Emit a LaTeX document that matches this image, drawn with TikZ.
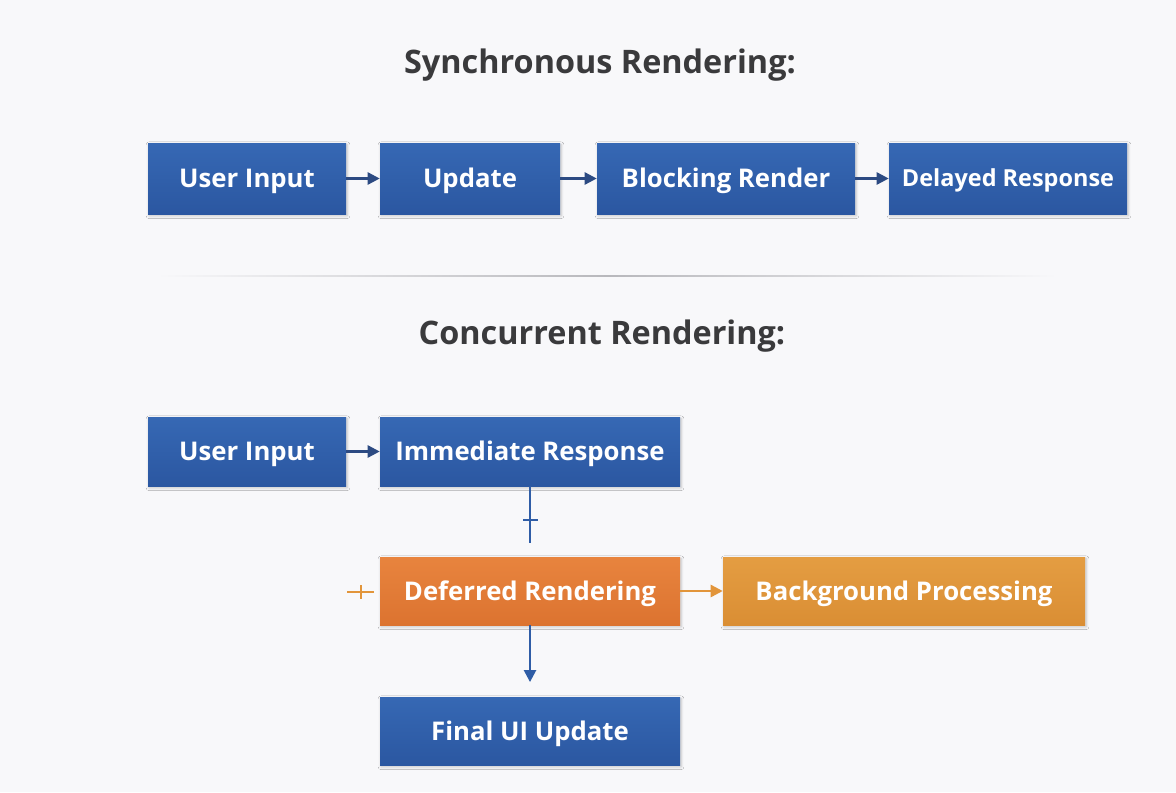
\documentclass[tikz,border=0pt]{standalone}
\usepackage{fontspec}
\setmainfont{Open Sans}
\usetikzlibrary{arrows.meta,shadows.blur}
\definecolor{pagebg}{HTML}{F8F8FA}
\definecolor{titlegray}{HTML}{3A3A3C}
\definecolor{bluetop}{HTML}{3668B4}
\definecolor{bluebot}{HTML}{2B57A1}
\definecolor{navyline}{HTML}{2C4A82}
\definecolor{blueline}{HTML}{2F5DA6}
\definecolor{deftop}{HTML}{E8843E}
\definecolor{defbot}{HTML}{DC7330}
\definecolor{bgtop}{HTML}{E49D42}
\definecolor{bgbot}{HTML}{DA8E34}
\definecolor{orangeline}{HTML}{E2953A}
\definecolor{sepgray}{HTML}{B8B8BC}
\tikzset{
  boxbase/.style={rectangle, inner sep=0pt, text=white,
    text height=13.6pt, text depth=0pt,
    font=\bfseries\fontsize{19.3}{21}\selectfont,
    blur shadow={shadow xshift=0.8pt, shadow yshift=-1.3pt, shadow opacity=22, shadow blur steps=6}},
  bluebox/.style={boxbase, top color=bluetop, bottom color=bluebot},
  defbox/.style={boxbase, top color=deftop, bottom color=defbot},
  bgbox/.style={boxbase, top color=bgtop, bottom color=bgbot},
  heading/.style={text=titlegray, font=\bfseries\fontsize{24.3}{27}\selectfont},
  navyarrow/.style={draw=navyline, line width=1.8pt, -{Triangle[length=9pt,width=9pt]}},
  bluearrow/.style={draw=blueline, line width=1.8pt, -{Triangle[length=9pt,width=9pt]}},
  orangearrow/.style={draw=orangeline, line width=1.8pt, -{Triangle[length=9pt,width=9pt]}},
  blueplain/.style={draw=blueline, line width=1.8pt},
  orangeplain/.style={draw=orangeline, line width=1.8pt},
}
\begin{document}
\begin{tikzpicture}[x=0.75pt,y=-0.75pt]
  \useasboundingbox[fill=pagebg] (0,0) rectangle (1176,792);

  % Synchronous rendering
  \node[heading] (synctitle) at (600,65) {Synchronous Rendering:};
  \node[bluebox, minimum width=148.5pt, minimum height=53.25pt] (sinput)  at (247,178.5)  {User Input};
  \node[bluebox, minimum width=135pt,   minimum height=53.25pt] (supdate) at (470,178.5)  {Update};
  \node[bluebox, minimum width=193.5pt, minimum height=53.25pt] (sblock)  at (726,178.5)  {Blocking Render};
  \node[bluebox, minimum width=178.5pt, minimum height=53.25pt, text height=12.6pt,
        font=\bfseries\fontsize{17.6}{20}\selectfont] (sdelay)  at (1008,178.5) {Delayed Response};
  \draw[navyarrow] (sinput) -- (supdate);
  \draw[navyarrow] (supdate) -- (sblock);
  \draw[navyarrow] (sblock) -- (sdelay);

  % divider
  \shade[left color=pagebg, right color=pagebg, middle color=sepgray] (157,275.3) rectangle (1057,276.8);

  % Concurrent rendering
  \node[heading] (conctitle) at (602,336) {Concurrent Rendering:};
  \node[bluebox, minimum width=148.5pt, minimum height=51.75pt] (cinput) at (247,451.5) {User Input};
  \node[bluebox, minimum width=225pt,   minimum height=51.75pt] (cimm)   at (530,451.5) {Immediate Response};
  \node[defbox,  minimum width=225pt,   minimum height=51pt]    (cdef)   at (530,591)   {Deferred Rendering};
  \node[bgbox,   minimum width=271.5pt, minimum height=51pt]    (cbg)    at (904,591)   {Background Processing};
  \node[bluebox, minimum width=225pt,   minimum height=51pt]    (cfinal) at (530,731)   {Final UI Update};

  \draw[navyarrow] (cinput) -- (cimm);

  % open connector below the immediate response, with a cross tick
  \coordinate (immend) at (530,543);
  \draw[blueplain] (cimm.south) -- (immend);
  \coordinate (immtickl) at (523,520);
  \coordinate (immtickr) at (538,520);
  \draw[blueplain] (immtickl) -- (immtickr);

  % open connector on the left of the deferred rendering
  \coordinate (defl) at (347,592);
  \coordinate (defr) at (374,592);
  \draw[orangeplain] (defl) -- (defr);
  \coordinate (deftickt) at (361,585);
  \coordinate (deftickb) at (361,599);
  \draw[orangeplain] (deftickt) -- (deftickb);

  \draw[orangearrow] (cdef) -- (cbg);
  \draw[bluearrow, shorten >=11pt] (cdef) -- (cfinal);
\end{tikzpicture}
\end{document}
